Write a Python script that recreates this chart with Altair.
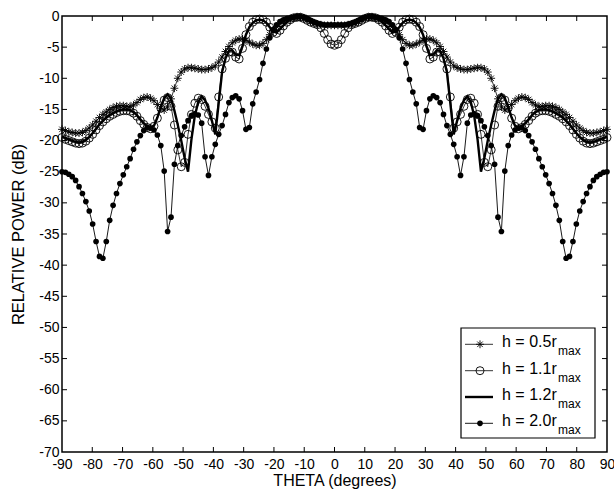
import altair as alt
import numpy as np
import pandas as pd

# angle grid (left half, -90 .. 0), the pattern is symmetric about 0
theta_left = np.round(np.arange(0, 81) * 1.125 - 90.0, 3)

h05 = [-18.2, -18.4, -18.6, -18.7, -18.8, -18.8, -18.7, -18.4, -18.0, -17.5,
       -16.9, -16.3, -15.8, -15.4, -15.0, -14.7, -14.5, -14.4, -14.4, -14.5,
       -14.5, -14.3, -13.9, -13.4, -13.1, -13.0, -13.2, -13.6, -14.2, -14.8,
       -15.1, -14.6, -13.3, -11.6, -10.0, -9.0, -8.5, -8.3, -8.3, -8.4,
       -8.5, -8.6, -8.6, -8.5, -8.3, -8.0, -7.4, -6.6, -5.7, -4.9,
       -4.3, -3.9, -3.7, -3.7, -3.9, -4.2, -4.5, -4.7, -4.7, -4.4,
       -3.8, -3.0, -2.3, -1.7, -1.2, -0.8, -0.6, -0.4, -0.3, -0.2,
       -0.2, -0.3, -0.6, -0.9, -1.1, -1.3, -1.4, -1.5, -1.5, -1.5, -1.5]

h11 = [-19.5, -19.8, -20.0, -20.2, -20.4, -20.5, -20.4, -20.1, -19.6, -19.0,
       -18.3, -17.6, -17.0, -16.5, -16.1, -15.8, -15.5, -15.3, -15.2, -15.2,
       -15.3, -15.6, -16.1, -16.8, -17.4, -17.9, -18.1, -17.7, -16.4, -14.8,
       -13.5, -13.1, -14.5, -17.5, -21.5, -24.2, -23.5, -19.0, -15.8, -14.0,
       -13.2, -13.4, -14.5, -15.8, -17.0, -18.0, -13.0, -8.5, -6.8, -5.8,
       -5.8, -6.6, -6.9, -5.2, -3.0, -1.7, -1.0, -0.6, -0.5, -0.6,
       -1.0, -1.8, -2.6, -2.8, -2.3, -1.6, -1.0, -0.6, -0.3, -0.2,
       -0.2, -0.4, -0.7, -1.0, -1.2, -1.4, -1.9, -2.8, -3.8, -4.5, -4.7]

h12 = [-19.3, -19.6, -19.8, -20.0, -20.2, -20.3, -20.2, -19.9, -19.4, -18.8,
       -18.1, -17.4, -16.8, -16.3, -15.9, -15.6, -15.3, -15.1, -15.0, -15.0,
       -15.1, -15.4, -15.9, -16.6, -17.2, -17.7, -18.0, -17.6, -16.3, -14.6,
       -13.2, -12.6, -13.3, -15.2, -17.5, -20.0, -22.8, -25.0, -19.8, -16.0,
       -13.8, -12.9, -13.5, -14.8, -16.8, -19.0, -14.0, -9.0, -6.8, -5.6,
       -5.5, -6.2, -6.3, -4.8, -3.0, -1.8, -1.1, -0.7, -0.6, -0.7,
       -1.1, -1.8, -2.5, -2.6, -2.1, -1.5, -1.0, -0.6, -0.3, -0.2,
       -0.2, -0.4, -0.7, -1.0, -1.2, -1.3, -1.4, -1.4, -1.4, -1.4, -1.4]

h20 = [-25.0, -25.1, -25.4, -25.8, -26.4, -27.4, -28.5, -29.8, -31.3, -33.4,
       -36.2, -38.6, -38.9, -36.2, -32.8, -30.4, -28.5, -26.9, -25.5, -24.2,
       -22.9, -21.4, -20.2, -19.2, -18.4, -17.9, -18.0, -18.3, -19.1, -20.8,
       -24.9, -34.6, -32.3, -23.8, -20.8, -19.2, -17.8, -16.8, -16.0, -15.7,
       -15.9, -17.2, -22.6, -25.6, -22.6, -20.6, -19.0, -17.6, -15.8, -13.9,
       -13.1, -12.8, -13.3, -15.2, -18.2, -17.9, -14.1, -12.2, -10.2, -7.6,
       -5.3, -3.5, -2.2, -1.4, -0.9, -0.6, -0.4, -0.3, -0.2, -0.1,
       -0.1, -0.2, -0.4, -0.7, -1.0, -1.2, -1.3, -1.4, -1.4, -1.4, -1.4]

x_ticks = list(range(-90, 91, 10))
y_ticks = list(range(-70, 1, 5))
legend_main = ["h = 0.5r", "h = 1.1r", "h = 1.2r", "h = 2.0r"]
legend_sub = "max"

FONT = "Liberation Sans"
W, H = 545, 436


def mirror(vals):
    vals = list(vals)
    return vals + vals[-2::-1]


theta_full = list(theta_left) + [-t for t in theta_left[-2::-1]]


def series_df(vals):
    return pd.DataFrame({"theta": theta_full, "db": mirror(vals)})


xs = alt.Scale(domain=[-90, 90], nice=False, zero=False)
ys = alt.Scale(domain=[-70, 0], nice=False, zero=False)

xaxis = alt.Axis(values=x_ticks, labelExpr="datum.value + ''", tickSize=0, labelPadding=5,
                 domain=False, grid=False, title="THETA (degrees)", titleFontSize=16,
                 titleFontWeight="normal", labelFontSize=14, titleX=W / 2, titleY=28,
                 titleAlign="center", titleBaseline="middle", labelFlush=False,
                 labelOverlap=False, labelColor="black", titleColor="black")
yaxis = alt.Axis(values=y_ticks, labelExpr="datum.value + ''", tickSize=0, labelPadding=3,
                 domain=False, grid=False, title="RELATIVE POWER (dB)", titleFontSize=16.5,
                 titleFontWeight="normal", labelFontSize=14, titleX=-44, titleY=H / 2,
                 titleAngle=270, titleAlign="center", titleBaseline="middle",
                 labelFlush=False, labelOverlap=False, labelColor="black", titleColor="black")


def enc(ch):
    return ch.encode(x=alt.X("theta:Q", scale=xs, axis=xaxis),
                     y=alt.Y("db:Q", scale=ys, axis=yaxis))


ASTER = "M-1,0L1,0M0,-1L0,1M-0.7,-0.7L0.7,0.7M-0.7,0.7L0.7,-0.7"
AST_SIZE, CIR_SIZE, DOT_SIZE = 62, 64, 32

d05, d11, d12, d20 = series_df(h05), series_df(h11), series_df(h12), series_df(h20)

layers = [
    enc(alt.Chart(d05).mark_line(color="black", strokeWidth=0.8)),
    enc(alt.Chart(d05).mark_point(shape=ASTER, filled=False, size=AST_SIZE, strokeWidth=0.9,
                                  color="black", opacity=1)),
    enc(alt.Chart(d11).mark_line(color="black", strokeWidth=0.8)),
    enc(alt.Chart(d11).mark_point(shape="circle", filled=False, size=CIR_SIZE, strokeWidth=0.9,
                                  color="black", opacity=1)),
    enc(alt.Chart(d12).mark_line(color="black", strokeWidth=2.4)),
    enc(alt.Chart(d20).mark_line(color="black", strokeWidth=0.9)),
    enc(alt.Chart(d20).mark_point(shape="circle", filled=True, size=DOT_SIZE, color="black",
                                  opacity=1)),
]

# inward ticks on all four sides
xt = pd.DataFrame({"theta": x_ticks[1:-1]})
yt = pd.DataFrame({"db": y_ticks[1:-1]})
layers += [
    alt.Chart(xt).mark_rule(color="black", strokeWidth=1).encode(
        x=alt.X("theta:Q", scale=xs, axis=xaxis), y=alt.value(0), y2=alt.value(5)),
    alt.Chart(xt).mark_rule(color="black", strokeWidth=1).encode(
        x=alt.X("theta:Q", scale=xs, axis=xaxis), y=alt.value(H), y2=alt.value(H - 5)),
    alt.Chart(yt).mark_rule(color="black", strokeWidth=1).encode(
        y=alt.Y("db:Q", scale=ys, axis=yaxis), x=alt.value(0), x2=alt.value(5)),
    alt.Chart(yt).mark_rule(color="black", strokeWidth=1).encode(
        y=alt.Y("db:Q", scale=ys, axis=yaxis), x=alt.value(W), x2=alt.value(W - 5)),
]

# legend box
one = pd.DataFrame({"a": [0]})
LX0, LX1, LY0, LY1 = 399, 533, 312, 422
layers.append(alt.Chart(one).mark_rect(fill="white", stroke="black", strokeWidth=1.2).encode(
    x=alt.value(LX0), x2=alt.value(LX1), y=alt.value(LY0), y2=alt.value(LY1)))
entry_y = [328.3, 354.7, 381.0, 407.3]
line_w = [0.8, 0.8, 2.4, 0.9]
for i, ey in enumerate(entry_y):
    layers.append(alt.Chart(one).mark_rule(color="black", strokeWidth=line_w[i]).encode(
        x=alt.value(403), x2=alt.value(431), y=alt.value(ey)))
    if i == 0:
        layers.append(alt.Chart(one).mark_point(shape=ASTER, filled=False, size=AST_SIZE,
                                                strokeWidth=0.9, color="black", opacity=1)
                      .encode(x=alt.value(418), y=alt.value(ey)))
    elif i == 1:
        layers.append(alt.Chart(one).mark_point(shape="circle", filled=False, size=CIR_SIZE,
                                                strokeWidth=0.9, color="black", opacity=1)
                      .encode(x=alt.value(418), y=alt.value(ey)))
    elif i == 3:
        layers.append(alt.Chart(one).mark_point(shape="circle", filled=True, size=DOT_SIZE,
                                                color="black", opacity=1)
                      .encode(x=alt.value(418), y=alt.value(ey)))
    layers.append(alt.Chart(one).mark_text(align="left", baseline="alphabetic", fontSize=16,
                                           font=FONT, color="black")
                  .encode(x=alt.value(440), y=alt.value(ey + 3), text=alt.value(legend_main[i])))
    layers.append(alt.Chart(one).mark_text(align="left", baseline="alphabetic", fontSize=12,
                                           font=FONT, color="black")
                  .encode(x=alt.value(496), y=alt.value(ey + 11), text=alt.value(legend_sub)))

chart = alt.layer(*layers).properties(
    width=W, height=H,
    autosize=alt.AutoSizeParams(type="none"),
    padding={"left": 62, "top": 16, "right": 7, "bottom": 45},
    background="white",
).configure_view(stroke="black", strokeWidth=1.5).configure_axis(
    labelFont=FONT, titleFont=FONT)

chart.save("out.html", embed_options={"renderer": "svg", "actions": False})
